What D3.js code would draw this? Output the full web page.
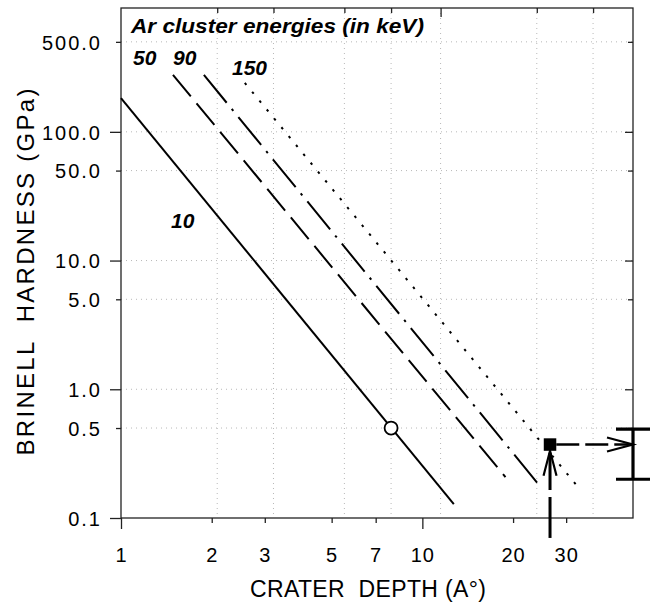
<!DOCTYPE html>
<html>
<head>
<meta charset="utf-8">
<script src="https://cdn.jsdelivr.net/npm/d3@7"></script>
<style>
  html, body { margin: 0; padding: 0; background: #fff; }
  svg { display: block; }
  text { font-family: "Liberation Sans", Arial, Helvetica, sans-serif; fill: #000; }
</style>
</head>
<body>
<svg id="chart" width="652" height="605"></svg>
<script>
// ---------------- data ----------------
const energyLabels = ["10", "50", "90", "150"];
const curve10Depth = [1, 11.0];
const curve10Hard = [183, 0.128];
const curve50Depth = [1.454, 15.96];
const curve50Hard = [277, 0.208];
const curve90Depth = [1.817, 20.2];
const curve90Hard = [277, 0.184];
const curve150Depth = [2.44, 27.4];
const curve150Hard = [240, 0.165];

const openPoint = [7, 0.5];          // open circle
const measuredPoint = [22, 0.372];   // filled square
const errorBarX = 40;
const errorBarRange = [0.2, 0.49];
const arrowBottomHard = 0.07;

const xTickValues = [1, 2, 3, 5, 7, 10, 20, 30];
const xMajorTicks = [1, 10];
const topTickValues = [2, 3, 5, 7, 10, 20, 30];
const yTickValues = [0.1, 0.5, 1, 5, 10, 50, 100, 500];
const yMajorTicks = [0.1, 1, 10, 100];

// ---------------- scales ----------------
const L = 121, R = 633, T = 8, B = 518;
const x = d3.scaleLog().domain([1, 40]).range([L, R]);        // data / grid scale
const xLab = d3.scaleLog().domain([1, 50]).range([L, R]);     // printed bottom axis
const y = d3.scaleLog().domain([0.1, 900]).range([B, 9]);

const svg = d3.select("#chart");

// ---------------- grid ----------------
const grid = svg.append("g").attr("stroke", "#b8b8b8").attr("stroke-width", 1)
  .attr("stroke-dasharray", "1,4");
grid.selectAll("line.gx").data(topTickValues).join("line")
  .attr("x1", d => x(d)).attr("x2", d => x(d)).attr("y1", T).attr("y2", B);
grid.selectAll("line.gy").data(yTickValues.filter(v => v > 0.1)).join("line")
  .attr("y1", d => y(d)).attr("y2", d => y(d)).attr("x1", L).attr("x2", R);

// ---------------- frame ----------------
svg.append("rect").attr("x", L).attr("y", T).attr("width", R - L).attr("height", B - T)
  .attr("fill", "none").attr("stroke", "#222").attr("stroke-width", 1.3);

// bottom axis (printed labels)
const gx = svg.append("g").attr("transform", `translate(0,${B})`)
  .call(d3.axisBottom(xLab).tickValues(xTickValues).tickSize(5).tickPadding(0)
    .tickFormat(d3.format("d")));
gx.select(".domain").remove();
gx.selectAll(".tick line").attr("stroke", "#222").attr("stroke-width", 1.3)
  .attr("y2", d => xMajorTicks.includes(d) ? 11 : 5);
gx.selectAll(".tick text").attr("y", 44).attr("dy", 0).attr("font-size", 20)
  .attr("letter-spacing", "1px")
  .attr("font-family", "Liberation Sans, Arial, sans-serif").attr("fill", "#000");

// top ticks (inward)
const gt = svg.append("g").attr("transform", `translate(0,${T})`)
  .call(d3.axisTop(x).tickValues(topTickValues).tickSize(-5).tickFormat(""));
gt.select(".domain").remove();
gt.selectAll(".tick line").attr("stroke", "#222").attr("stroke-width", 1.3)
  .attr("y2", d => d === 10 ? 9 : 5);

// left axis
const gy = svg.append("g").attr("transform", `translate(${L},0)`)
  .call(d3.axisLeft(y).tickValues(yTickValues).tickSize(5).tickPadding(0)
    .tickFormat(d3.format(".1f")));
gy.select(".domain").remove();
gy.selectAll(".tick line").attr("stroke", "#222").attr("stroke-width", 1.3)
  .attr("x2", d => yMajorTicks.includes(d) ? -11 : -5);
gy.selectAll(".tick text").attr("x", -19).attr("dy", "0.36em").attr("font-size", 20)
  .attr("letter-spacing", "2px")
  .attr("font-family", "Liberation Sans, Arial, sans-serif").attr("fill", "#000");

// right ticks (inward)
const gr = svg.append("g").attr("transform", `translate(${R},0)`)
  .call(d3.axisRight(y).tickValues(yTickValues.filter(v => v > 0.1)).tickSize(-5).tickFormat(""));
gr.select(".domain").remove();
gr.selectAll(".tick line").attr("stroke", "#222").attr("stroke-width", 1.3)
  .attr("x2", d => yMajorTicks.includes(d) ? -8 : -5);

// ---------------- curves ----------------
const line = d3.line().x(d => x(d[0])).y(d => y(d[1]));
const curves = [
  { depth: curve10Depth, hard: curve10Hard, dash: null },
  { depth: curve50Depth, hard: curve50Hard, dash: "28,9" },
  { depth: curve90Depth, hard: curve90Hard, dash: "36,8,2.5,8" },
  { depth: curve150Depth, hard: curve150Hard, dash: "2.5,9" }
];
svg.append("g").selectAll("path").data(curves).join("path")
  .attr("d", c => line(c.depth.map((d, i) => [d, c.hard[i]])))
  .attr("fill", "none").attr("stroke", "#000").attr("stroke-width", 2)
  .attr("stroke-dasharray", c => c.dash);

// open circle
svg.append("circle").attr("cx", x(openPoint[0])).attr("cy", y(openPoint[1])).attr("r", 6.5)
  .attr("fill", "#fff").attr("stroke", "#000").attr("stroke-width", 1.8);

// ---------------- arrows ----------------
const sq = 12.5;
const sx = x(measuredPoint[0]), sy = y(measuredPoint[1]);
// horizontal dashed arrow
const ex = x(errorBarX);
svg.append("line").attr("x1", sx + sq / 2).attr("x2", ex - 2).attr("y1", sy).attr("y2", sy)
  .attr("stroke", "#000").attr("stroke-width", 2.5).attr("stroke-dasharray", "23,6");
svg.append("path")
  .attr("d", `M${ex - 26},${sy - 7}L${ex},${sy}L${ex - 26},${sy + 7}`)
  .attr("fill", "none").attr("stroke", "#000").attr("stroke-width", 2.2);
// vertical dashed arrow from below the axis
const by = y(arrowBottomHard);
svg.append("line").attr("x1", sx).attr("x2", sx).attr("y1", by).attr("y2", sy + sq / 2 + 2)
  .attr("stroke", "#000").attr("stroke-width", 3).attr("stroke-dasharray", "41,7");
svg.append("path")
  .attr("d", `M${sx - 6.5},${sy + sq / 2 + 25}L${sx},${sy + sq / 2}L${sx + 6.5},${sy + sq / 2 + 25}`)
  .attr("fill", "none").attr("stroke", "#000").attr("stroke-width", 2.2);
// filled square
svg.append("rect").attr("x", sx - sq / 2).attr("y", sy - sq / 2).attr("width", sq).attr("height", sq)
  .attr("fill", "#000");

// error bar
const eb = svg.append("g").attr("stroke", "#000").attr("stroke-width", 3.2);
eb.append("line").attr("x1", ex).attr("x2", ex)
  .attr("y1", y(errorBarRange[0])).attr("y2", y(errorBarRange[1]));
eb.selectAll("line.cap").data(errorBarRange).join("line")
  .attr("x1", ex - 17).attr("x2", ex + 17).attr("y1", d => y(d)).attr("y2", d => y(d));

// ---------------- labels ----------------
svg.append("text").attr("x", 131).attr("y", 33).attr("font-size", 21)
  .attr("font-weight", "bold").attr("font-style", "italic")
  .attr("textLength", 293).attr("lengthAdjust", "spacingAndGlyphs")
  .text("Ar cluster energies (in keV)");

const labelPos = [[171, 228], [133, 65], [173, 65], [232, 75]];
svg.append("g").selectAll("text").data(energyLabels).join("text")
  .attr("x", (d, i) => labelPos[i][0]).attr("y", (d, i) => labelPos[i][1])
  .attr("font-size", 21).attr("font-weight", "bold").attr("font-style", "italic")
  .text(d => d);

// axis titles
svg.append("text").attr("x", 368).attr("y", 597).attr("text-anchor", "middle")
  .attr("font-size", 23).style("white-space", "pre")
  .attr("textLength", 236).attr("lengthAdjust", "spacing")
  .text("CRATER  DEPTH (A°)");

svg.append("text").attr("transform", "translate(34,272) rotate(-90)")
  .attr("text-anchor", "middle").attr("font-size", 24).style("white-space", "pre")
  .attr("textLength", 367).attr("lengthAdjust", "spacing")
  .text("BRINELL  HARDNESS (GPa)");
</script>
</body>
</html>
